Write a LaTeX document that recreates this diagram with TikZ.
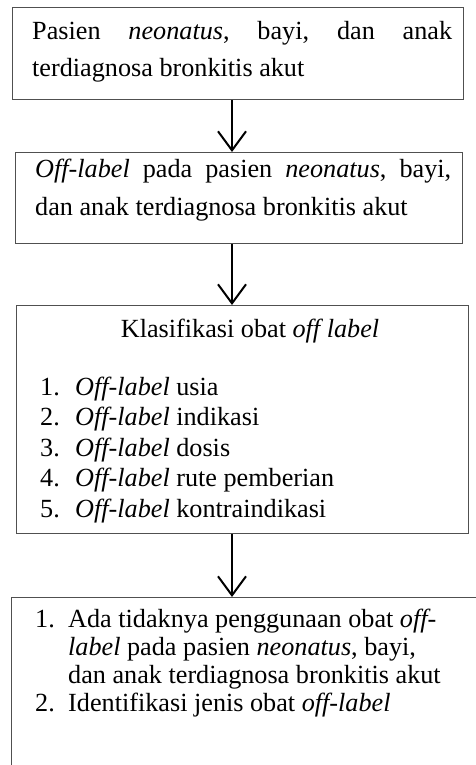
\documentclass[tikz,border=0pt]{standalone}
\usepackage{fontspec}
\setmainfont{Liberation Serif}
\usetikzlibrary{arrows.meta}
\definecolor{boxgray}{HTML}{505050}
\begin{document}
\begin{tikzpicture}[x=1pt,y=-1pt,
  box/.style={draw=boxgray, line width=1.3pt, rectangle, inner sep=0pt, anchor=north west},
  txt/.style={inner sep=0pt, anchor=base west, font=\fontsize{26.2}{30}\selectfont},
  ctxt/.style={inner sep=0pt, anchor=base, font=\fontsize{26.2}{30}\selectfont},
  arr/.style={line width=2pt, -{Straight Barb[length=19pt,width=28pt,line width=2pt]}}]
\clip (0,0) rectangle (476,765);
\fill[white] (0,0) rectangle (476,765);
% boxes
\node[box, minimum width=451pt, minimum height=92pt] (b1) at (12,7) {};
\node[box, minimum width=447pt, minimum height=91pt] (b2) at (15,152) {};
\node[box, minimum width=452pt, minimum height=228pt] (b3) at (16,305) {};
\node[box, minimum width=480pt, minimum height=200pt] (b4) at (11,597) {};
% arrow axis
\coordinate (ax) at (232,0);
\draw[arr] (b1.south -| ax) -- (b2.north -| ax);
\draw[arr] (b2.south -| ax) -- (b3.north -| ax);
\draw[arr] (b3.south -| ax) -- (b4.north -| ax);
% box 1 text
\node[txt] (t11) at (32,40) {\hbox to 420pt{Pasien\hfill\textit{neonatus},\hfill bayi,\hfill dan\hfill anak}};
\node[txt] (t12) at (32,77) {terdiagnosa bronkitis akut};
% box 2 text
\node[txt] (t21) at (35,177) {\hbox to 416pt{\textit{Off-label}\hfill pada\hfill pasien\hfill\textit{neonatus},\hfill bayi,}};
\node[txt] (t22) at (35,215) {dan anak terdiagnosa bronkitis akut};
% box 3 text
\node[ctxt] (t30) at (250,337) {Klasifikasi obat \textit{off label}};
\node[txt] (n31) at (40,395) {1.};
\node[txt] (t31) at (75,395) {\textit{Off-label} usia};
\node[txt] (n32) at (40,425) {2.};
\node[txt] (t32) at (75,425) {\textit{Off-label} indikasi};
\node[txt] (n33) at (40,456) {3.};
\node[txt] (t33) at (75,456) {\textit{Off-label} dosis};
\node[txt] (n34) at (40,486) {4.};
\node[txt] (t34) at (75,486) {\textit{Off-label} rute pemberian};
\node[txt] (n35) at (40,517) {5.};
\node[txt] (t35) at (75,517) {\textit{Off-label} kontraindikasi};
% box 4 text
\node[txt] (n41) at (35,627) {1.};
\node[txt] (t41) at (68,627) {Ada tidaknya penggunaan obat \textit{off-}};
\node[txt] (t42) at (68,655) {\textit{label} pada pasien \textit{neonatus}, bayi,};
\node[txt] (t43) at (68,683) {dan anak terdiagnosa bronkitis akut};
\node[txt] (n44) at (35,711) {2.};
\node[txt] (t44) at (68,711) {Identifikasi jenis obat \textit{off-label}};
\end{tikzpicture}
\end{document}
